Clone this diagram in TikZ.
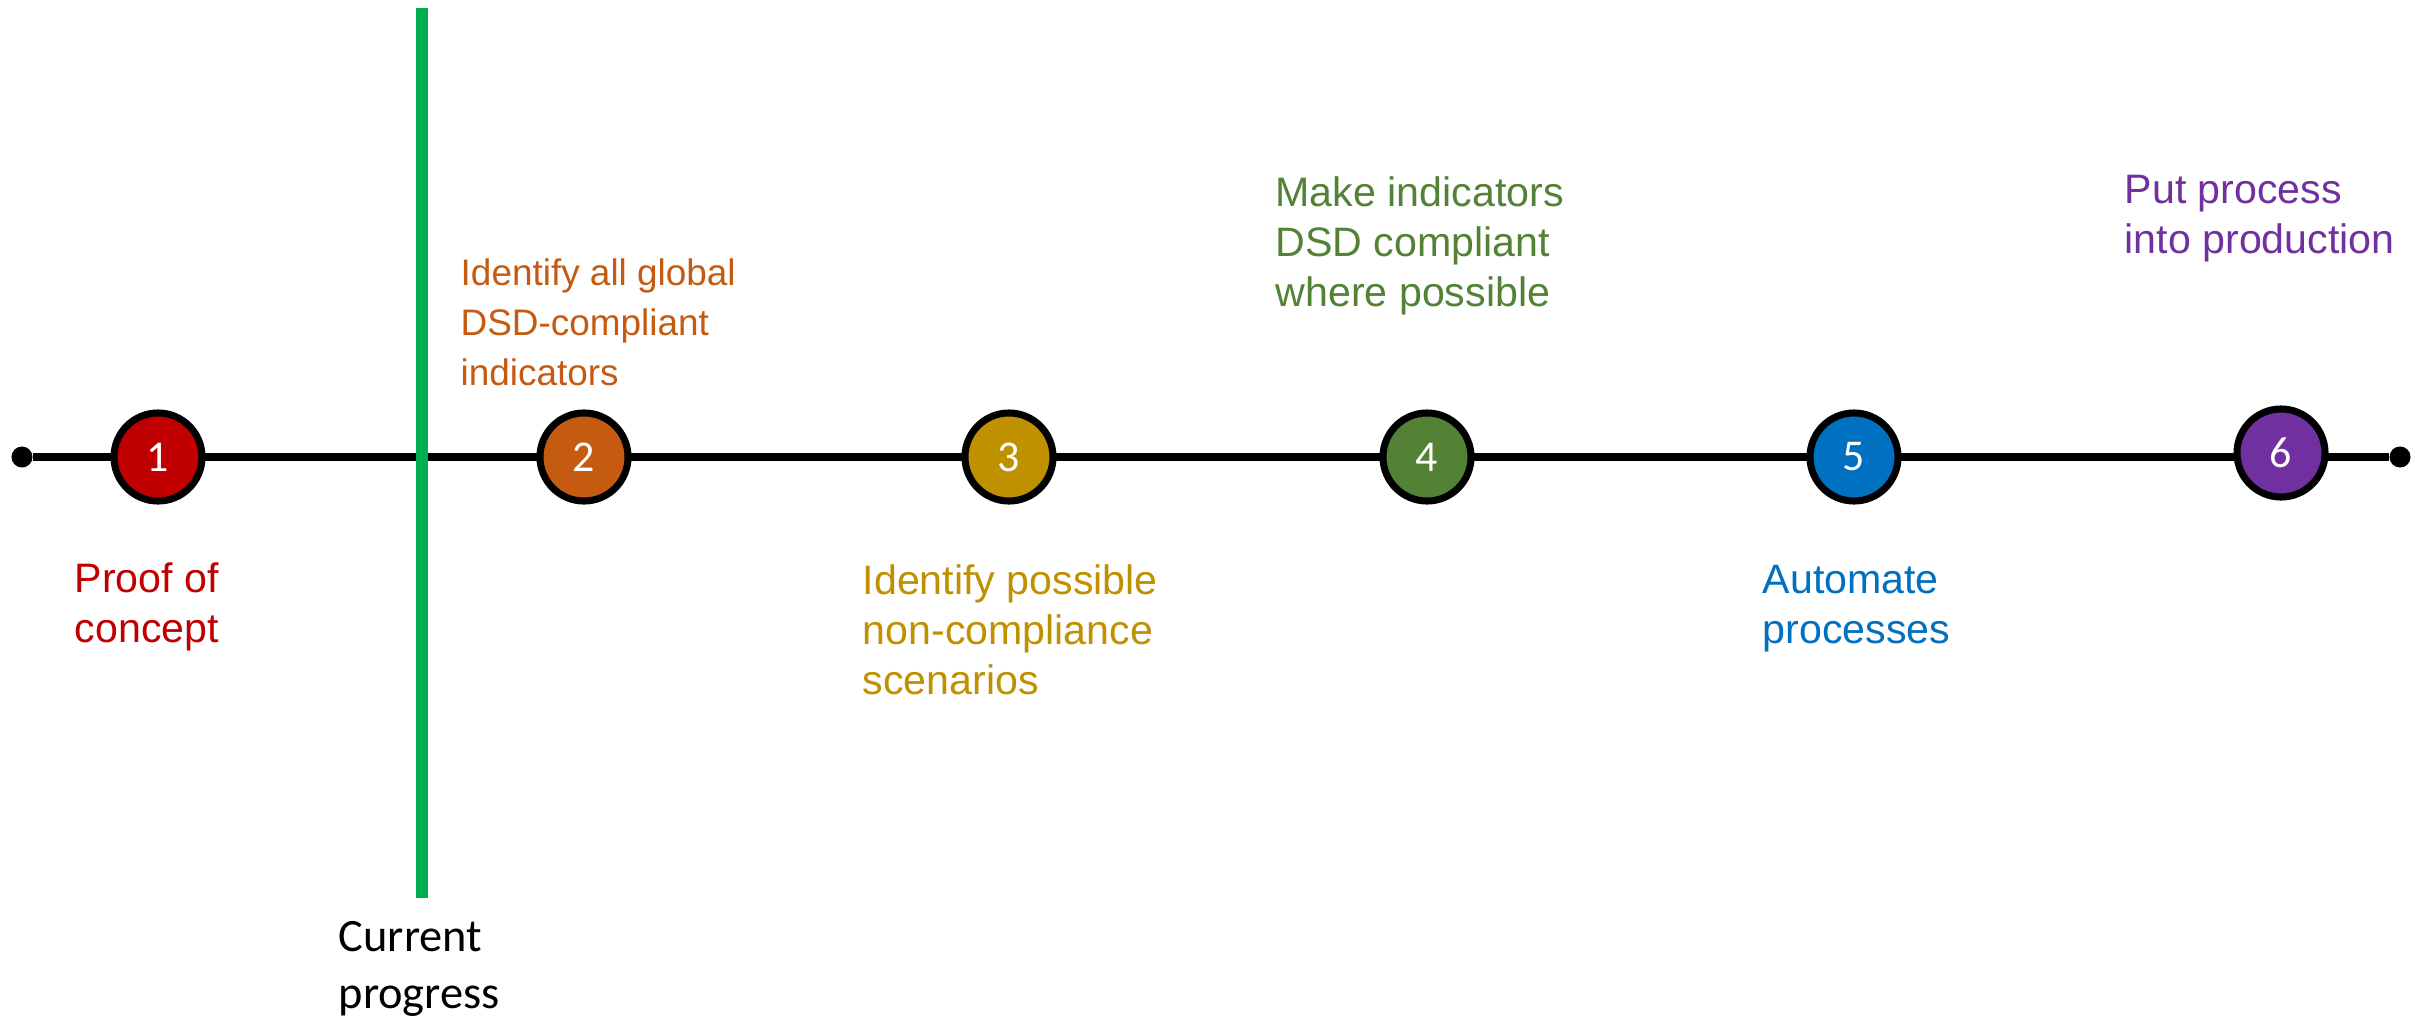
\documentclass[tikz,border=0pt]{standalone}
\usepackage{fontspec}
\setmainfont{Liberation Sans}
\newfontfamily\calibri{Carlito}
\usepackage{tikz}

\definecolor{stepred}{HTML}{C00000}
\definecolor{steporange}{HTML}{C55A11}
\definecolor{stepgold}{HTML}{BF9000}
\definecolor{stepgreen}{HTML}{538135}
\definecolor{stepblue}{HTML}{0070C0}
\definecolor{steppurple}{HTML}{7030A0}
\definecolor{nowgreen}{HTML}{00B050}

\begin{document}
\begin{tikzpicture}[x=0.01cm, y=-0.01cm]
			\tikzset{stage/.style={shape = circle, draw, line width = 2pt, minimum size = 0.88cm, inner sep = 0pt, text = white, font = \calibri\fontsize{12.5}{15}\selectfont}}
			\tikzset{dot/.style={shape = circle, fill, inner sep = 0pt, minimum size = 0.21cm}}
			\tikzset{note/.style={anchor = base west, align = left, inner sep = 0pt, font = \fontsize{11.7}{14.2}\selectfont}}
			\tikzset{timeline/.style={line width = 2.2pt}}
			\useasboundingbox (0,0) rectangle (2430,1021);
			%ends
			\node[dot] (start) at (22, 457) {};
			\node[dot] (end) at (2400, 457) {};
			%timeline
			\path (start) edge[timeline] (end);
			%stages
			\node[stage, fill = stepred] (p1) at (158, 457) {1};
			\node[stage, fill = steporange] (p2) at (584, 457) {2};
			\node[stage, fill = stepgold] (p3) at (1009, 457) {3};
			\node[stage, fill = stepgreen] (p4) at (1427, 457) {4};
			\node[stage, fill = stepblue] (p5) at (1854, 457) {5};
			\node[stage, fill = steppurple] (p6) at (2281, 453) {6};
			%current progress
			\coordinate (ntop) at (422, 8);
			\coordinate (nbot) at (422, 898);
			\draw[nowgreen, line width = 3.4pt] (ntop) -- (nbot);
			\node[note, font = \calibri\fontsize{13.2}{16.2}\selectfont] (now) at (338, 1008) {Current\\progress};
			%texts (anchored on the last line)
			\node[note, text = stepred] (t1) at (74, 642) {Proof of\\concept};
			\node[note, text = steporange, font = \fontsize{10.5}{14.2}\selectfont] (t2) at (460, 385) {Identify all global\\DSD-compliant\\indicators};
			\node[note, text = stepgold] (t3) at (862, 694) {Identify possible\\non-compliance\\scenarios};
			\node[note, text = stepgreen] (t4) at (1275, 306) {Make indicators\\DSD compliant\\where possible};
			\node[note, text = stepblue] (t5) at (1762, 643) {Automate\\processes};
			\node[note, text = steppurple] (t6) at (2124, 253) {Put process\\into production};
\end{tikzpicture}
\end{document}
